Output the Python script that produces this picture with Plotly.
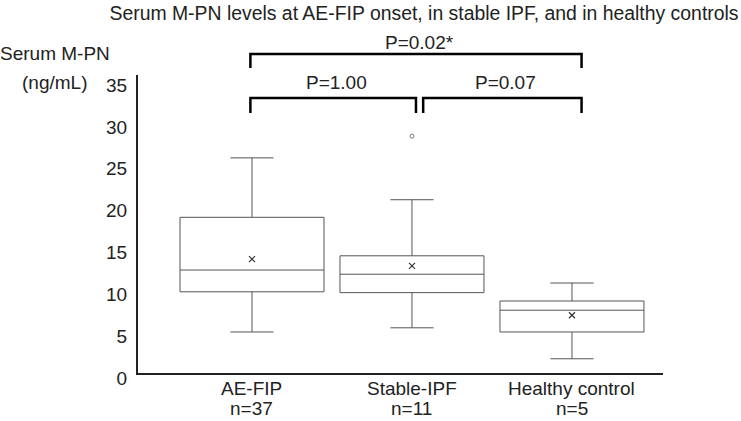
import plotly.graph_objects as go

# Box summary statistics (ng/mL)
GROUPS = ["AE-FIP", "Stable-IPF", "Healthy control"]
N = [37, 11, 5]
LOWER = [4.9, 5.4, 1.7]
Q1 = [9.7, 9.6, 4.9]
MEDIAN = [12.3, 11.8, 7.5]
Q3 = [18.6, 14.0, 8.6]
UPPER = [25.7, 20.7, 10.75]
MEAN = [13.6, 12.8, 6.9]
OUTLIER_GROUP = ["Stable-IPF"]
OUTLIER_VALUE = [28.3]

# Pairwise comparisons: (left group index, right group index, label)
COMPARISONS = [
    (0, 1, "P=1.00"),
    (1, 2, "P=0.07"),
    (0, 2, "P=0.02*"),
]

TICK_Y = [0, 5, 10, 15, 20, 25, 30, 35]

W, H = 741, 421
ML, MR, MT, MB = 138, 78, 75, 48
PW, PH = W - ML - MR, H - MT - MB
XMIN, XMAX = -0.7125, 2.569
YMIN, YMAX = 0, 35.6
FONT = "Liberation Sans, Arial, sans-serif"
FS = 19
INK = "#222222"


def px_x(x):
    return (x - XMIN) / (XMAX - XMIN)


def fig_x(px):
    # figure pixel -> paper coordinate
    return (px - ML) / PW


def fig_y(py):
    return (H - MB - py) / PH


fig = go.Figure()
fig.add_trace(go.Box(
    x=GROUPS, q1=Q1, median=MEDIAN, q3=Q3,
    lowerfence=LOWER, upperfence=UPPER,
    width=0.9, whiskerwidth=0.3,
    line=dict(color="#555555", width=1),
    fillcolor="white", boxpoints=False,
    showlegend=False, hoverinfo="skip",
))
fig.add_trace(go.Scatter(
    x=GROUPS, y=MEAN, mode="markers",
    marker=dict(symbol="x-thin-open", size=6, color="#333333",
                line=dict(color="#333333", width=1.2)),
    showlegend=False,
))
fig.add_trace(go.Scatter(
    x=OUTLIER_GROUP, y=OUTLIER_VALUE, mode="markers",
    marker=dict(symbol="circle-open", size=4, color="#777777",
                line=dict(color="#777777", width=1)),
    showlegend=False,
))

# Significance brackets: (bar px, leg-end px, label px, left x, right x)
levels = {(0, 1): (98, 113, 83, -0.01, 1.025),
          (1, 2): (98, 113, 83, 1.07, 2.06),
          (0, 2): (54, 68, 42, -0.01, 2.06)}
for a, b, label in COMPARISONS:
    ytop, ybot, ytext, xa, xb = levels[(a, b)]
    fig.add_shape(
        type="path", xref="paper", yref="paper",
        path=(f"M {px_x(xa)} {fig_y(ybot)} L {px_x(xa)} {fig_y(ytop)} "
              f"L {px_x(xb)} {fig_y(ytop)} L {px_x(xb)} {fig_y(ybot)}"),
        line=dict(color="black", width=2.5),
    )
    fig.add_annotation(
        x=px_x((xa + xb) / 2 + 0.02), y=fig_y(ytext), xref="paper", yref="paper",
        text=label, showarrow=False, xanchor="center", yanchor="middle",
        font=dict(size=FS, color=INK),
    )

# Y axis title, two lines with separate right edges
fig.add_annotation(x=fig_x(112), y=fig_y(53), xref="paper", yref="paper",
                   text="Serum M-PN", showarrow=False, xanchor="right", yanchor="middle",
                   font=dict(size=FS, color=INK))
fig.add_annotation(x=fig_x(89), y=fig_y(83), xref="paper", yref="paper",
                   text="(ng/mL)", showarrow=False, xanchor="right", yanchor="middle",
                   font=dict(size=FS, color=INK))

# category labels and group sizes under the axis
for g, n in zip(GROUPS, N):
    fig.add_annotation(x=g, y=fig_y(388), xref="x", yref="paper",
                       text=g, showarrow=False, xanchor="center", yanchor="middle",
                       font=dict(size=FS, color=INK))
    fig.add_annotation(x=g, y=fig_y(408), xref="x", yref="paper",
                       text=f"n={n}", showarrow=False, xanchor="center", yanchor="middle",
                       font=dict(size=FS, color=INK))

fig.update_layout(
    width=W, height=H,
    margin=dict(l=ML, r=MR, t=MT, b=MB),
    paper_bgcolor="white", plot_bgcolor="white",
    font=dict(family=FONT, size=FS, color=INK),
    title=dict(
        text="Serum M-PN levels at AE-FIP onset, in stable IPF, and in healthy controls",
        x=424 / W, xanchor="center", y=1 - 13 / H, yanchor="middle",
        font=dict(size=19.4, color=INK),
    ),
    xaxis=dict(
        range=[XMIN, XMAX], showgrid=False, zeroline=False, automargin=False,
        showline=True, linewidth=2, linecolor=INK, ticks="",
        tickvals=GROUPS, showticklabels=False,
    ),
    yaxis=dict(
        range=[YMIN, YMAX], showgrid=False, zeroline=False, automargin=False,
        showline=True, linewidth=2, linecolor=INK, ticks="",
        tickvals=TICK_Y, ticklabelstandoff=5, ticklabelshift=5,
    ),
)

fig.write_html("out.html", config={"displayModeBar": False},
               post_script="document.body.style.margin='0';")
